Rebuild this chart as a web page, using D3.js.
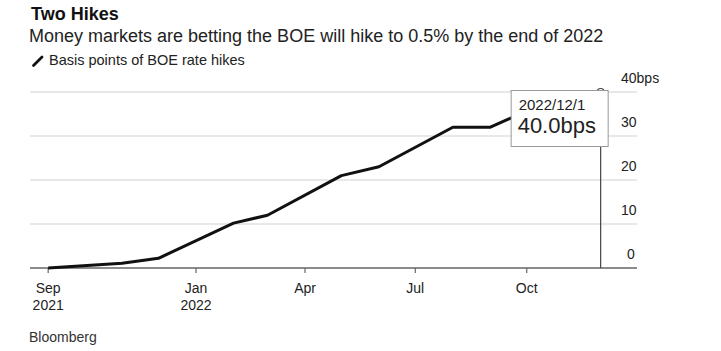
<!DOCTYPE html>
<html>
<head>
<meta charset="utf-8">
<script src="https://cdn.jsdelivr.net/npm/d3@7"></script>
<style>
  html, body { margin: 0; padding: 0; background: #fff; }
  svg { display: block; }
</style>
</head>
<body>
<svg id="chart" width="721" height="351"></svg>
<script>
// data: BOE hikes priced, in basis points
const dates = ["2021-09-01", "2021-11-01", "2021-12-01", "2022-02-01", "2022-03-01",
  "2022-05-01", "2022-06-01", "2022-08-01", "2022-09-01", "2022-10-01", "2022-11-01", "2022-12-01"];
const hikes = [0, 1.1, 2.2, 10.2, 12.0, 21.0, 23.0, 32.0, 32.0, 35.7, 38.0, 40.0];
const yTicks = [0, 10, 20, 30, 40];
const xTicks = [
  { date: "2021-09-01", label: ["Sep", "2021"] },
  { date: "2022-01-01", label: ["Jan", "2022"] },
  { date: "2022-04-01", label: ["Apr"] },
  { date: "2022-07-01", label: ["Jul"] },
  { date: "2022-10-01", label: ["Oct"] }
];
const focusDate = "2022-12-01";

(function() {
  const INK = "#111";
  const GRID = "#e0e0e0";
  const AXIS = "#666";
  const FONT = "'Liberation Sans', Arial, sans-serif";

  const parse = d3.utcParse("%Y-%m-%d");
  const series = dates.map((d, i) => ({ date: parse(d), value: hikes[i] }));

  const svg = d3.select("#chart");

  const x = d3.scaleUtc()
    .domain([parse("2021-08-17"), parse("2022-12-31")])
    .range([30, 637]);

  const y = d3.scaleLinear()
    .domain([0, 40])
    .range([268, 92]);

  // Title block
  svg.append("text")
    .attr("x", 31).attr("y", 20)
    .attr("font-family", FONT)
    .attr("font-weight", 700)
    .attr("font-size", 18)
    .attr("fill", INK)
    .text("Two Hikes");

  svg.append("text")
    .attr("x", 29).attr("y", 42)
    .attr("font-family", FONT)
    .attr("font-size", 18)
    .attr("fill", "#222")
    .text("Money markets are betting the BOE will hike to 0.5% by the end of 2022");

  // Legend
  svg.append("line")
    .attr("x1", 33.5).attr("y1", 65.5)
    .attr("x2", 42).attr("y2", 57)
    .attr("stroke", INK)
    .attr("stroke-width", 2.8)
    .attr("stroke-linecap", "round");

  svg.append("text")
    .attr("x", 49).attr("y", 65)
    .attr("font-family", FONT)
    .attr("font-size", 14.5)
    .attr("fill", "#222")
    .text("Basis points of BOE rate hikes");

  // Grid lines
  svg.append("g")
    .selectAll("line")
    .data(yTicks.filter(d => d > 0))
    .join("line")
    .attr("x1", 30).attr("x2", 637)
    .attr("y1", d => y(d)).attr("y2", d => y(d))
    .attr("stroke", GRID)
    .attr("stroke-width", 1.5);

  // Y labels on the right, above each line
  svg.append("g")
    .selectAll("text")
    .data(yTicks)
    .join("text")
    .attr("x", d => d === 40 ? 621 : (d === 0 ? 627 : 621))
    .attr("y", d => y(d) - 9)
    .attr("font-family", FONT)
    .attr("font-size", 14)
    .attr("fill", "#222")
    .text(d => d === 40 ? "40bps" : d);

  // Baseline + ticks
  svg.append("line")
    .attr("x1", 30).attr("x2", 637)
    .attr("y1", y(0)).attr("y2", y(0))
    .attr("stroke", AXIS)
    .attr("stroke-width", 1.5);

  const xt = svg.append("g")
    .selectAll("g")
    .data(xTicks)
    .join("g")
    .attr("transform", d => `translate(${x(parse(d.date))},${y(0)})`);

  xt.append("line")
    .attr("y1", 0).attr("y2", 5)
    .attr("stroke", AXIS)
    .attr("stroke-width", 1.2);

  xt.selectAll("text")
    .data(d => d.label)
    .join("text")
    .attr("y", (d, i) => 25 + i * 17)
    .attr("text-anchor", "middle")
    .attr("font-family", FONT)
    .attr("font-size", 14)
    .attr("fill", "#222")
    .text(d => d);

  // Line
  const line = d3.line()
    .x(d => x(d.date))
    .y(d => y(d.value));

  svg.append("path")
    .datum(series)
    .attr("fill", "none")
    .attr("stroke", INK)
    .attr("stroke-width", 3)
    .attr("stroke-linejoin", "round")
    .attr("d", line);

  // Hover state: focus line, dot and tooltip
  const fp = series.find(d => +d.date === +parse(focusDate));
  const fx = x(fp.date);
  const fy = y(fp.value);

  svg.append("line")
    .attr("x1", fx).attr("x2", fx)
    .attr("y1", fy).attr("y2", y(0))
    .attr("stroke", "#444")
    .attr("stroke-width", 1.2);

  svg.append("circle")
    .attr("cx", fx).attr("cy", fy)
    .attr("r", 3.5)
    .attr("fill", "#fff")
    .attr("stroke", "#444")
    .attr("stroke-width", 1.2);

  const box = svg.append("g")
    .attr("transform", `translate(${fx - 90},${fy - 2})`);

  box.append("rect")
    .attr("x", 0.5).attr("y", 0.5)
    .attr("width", 97).attr("height", 56)
    .attr("fill", "#fff")
    .attr("stroke", "#999")
    .attr("stroke-width", 1);

  box.append("text")
    .attr("x", 8).attr("y", 20)
    .attr("font-family", FONT)
    .attr("font-size", 15)
    .attr("fill", "#222")
    .text(d3.utcFormat("%Y/%-m/%-d")(fp.date));

  box.append("text")
    .attr("x", 7).attr("y", 43)
    .attr("font-family", FONT)
    .attr("font-size", 22)
    .attr("fill", "#222")
    .text(`${fp.value.toFixed(1)}bps`);

  // Source
  svg.append("text")
    .attr("x", 29).attr("y", 342)
    .attr("font-family", FONT)
    .attr("font-size", 14)
    .attr("fill", "#333")
    .text("Bloomberg");
})();
</script>
</body>
</html>
